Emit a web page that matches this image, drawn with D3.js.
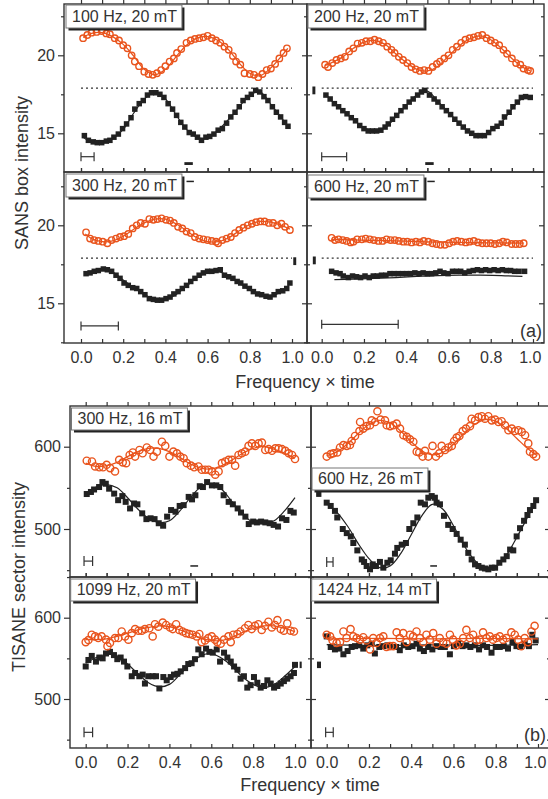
<!DOCTYPE html>
<html>
<head>
<meta charset="utf-8">
<script src="https://cdn.jsdelivr.net/npm/d3@7"></script>
<style>
  body { margin: 0; background: #fff; }
  text { font-family: "Liberation Sans", Arial, sans-serif; fill: #333; }
</style>
</head>
<body>
<div id="chart-container"></div>
<script>
// ---------- data: (a) SANS box intensity ----------
const refLevel = 17.9;

const a100C = [[0.01,21.1],[0.03,21.3],[0.05,21.45],[0.074,21.5],[0.098,21.55],[0.12,21.4],[0.137,21.35],[0.16,21.1],[0.18,20.95],[0.2,20.65],[0.22,20.45],[0.24,20.0],[0.255,19.6],[0.275,19.3],[0.3,18.95],[0.32,18.8],[0.34,18.75],[0.36,18.85],[0.38,19.05],[0.4,19.3],[0.42,19.6],[0.44,19.8],[0.455,20.15],[0.475,20.4],[0.5,20.8],[0.52,20.95],[0.54,21.05],[0.56,21.1],[0.58,21.15],[0.6,21.25],[0.62,21.1],[0.64,20.95],[0.66,20.8],[0.68,20.55],[0.7,20.35],[0.72,19.95],[0.735,19.6],[0.755,19.4],[0.775,18.85],[0.8,18.8],[0.82,18.75],[0.84,18.6],[0.86,18.8],[0.88,19.05],[0.9,19.15],[0.92,19.45],[0.94,19.8],[0.96,20.15],[0.976,20.45]];
const a100CFit = [[0.01,21.15],[0.05,21.4],[0.1,21.45],[0.15,21.2],[0.2,20.7],[0.25,19.95],[0.3,19.1],[0.35,18.75],[0.4,19.1],[0.45,19.9],[0.5,20.65],[0.55,21.1],[0.6,21.2],[0.65,20.95],[0.7,20.35],[0.75,19.5],[0.8,18.85],[0.85,18.7],[0.9,19.2],[0.95,19.95],[0.98,20.45]];
const a100S = [[0.016,14.85],[0.035,14.55],[0.058,14.45],[0.077,14.4],[0.098,14.4],[0.12,14.5],[0.137,14.55],[0.156,14.75],[0.177,14.95],[0.197,15.3],[0.216,15.6],[0.237,16.0],[0.255,16.55],[0.276,16.9],[0.295,17.1],[0.315,17.45],[0.334,17.6],[0.355,17.6],[0.374,17.5],[0.393,17.3],[0.413,16.9],[0.434,16.55],[0.453,16.15],[0.473,15.7],[0.492,15.4],[0.513,15.05],[0.532,14.95],[0.552,14.75],[0.571,14.55],[0.592,14.75],[0.61,14.8],[0.63,14.95],[0.65,15.2],[0.67,15.3],[0.69,15.65],[0.71,16.05],[0.73,16.35],[0.75,16.7],[0.768,17.1],[0.789,17.3],[0.807,17.5],[0.828,17.75],[0.847,17.65],[0.867,17.35],[0.886,17.1],[0.907,16.7],[0.926,16.35],[0.946,16.05],[0.965,15.7],[0.981,15.45]];
const a100SFit = [[0.01,14.75],[0.05,14.45],[0.1,14.4],[0.15,14.65],[0.2,15.25],[0.25,16.3],[0.3,17.2],[0.35,17.6],[0.4,17.2],[0.45,16.2],[0.5,15.25],[0.55,14.75],[0.6,14.7],[0.65,15.2],[0.7,15.9],[0.75,16.7],[0.8,17.45],[0.85,17.65],[0.9,16.85],[0.95,16.0],[0.98,15.4]];

const a200C = [[0.016,19.4],[0.03,19.25],[0.05,19.5],[0.07,19.7],[0.09,19.8],[0.11,19.9],[0.13,20.25],[0.15,20.45],[0.17,20.75],[0.19,20.8],[0.21,20.9],[0.23,20.9],[0.25,21.0],[0.27,20.9],[0.29,20.8],[0.31,20.55],[0.33,20.35],[0.345,20.15],[0.365,19.9],[0.385,19.7],[0.405,19.5],[0.425,19.25],[0.445,19.1],[0.465,19.0],[0.485,19.05],[0.505,19.0],[0.525,19.25],[0.545,19.45],[0.56,19.6],[0.58,19.8],[0.6,20.0],[0.62,20.35],[0.64,20.55],[0.66,20.8],[0.68,21.0],[0.7,21.1],[0.72,21.15],[0.74,21.25],[0.76,21.3],[0.78,21.1],[0.8,20.95],[0.82,20.8],[0.84,20.65],[0.86,20.35],[0.877,20.1],[0.9,19.8],[0.92,19.5],[0.94,19.4],[0.955,19.15],[0.976,19.05],[0.987,19.0]];
const a200CFit = [[0.016,19.35],[0.05,19.55],[0.1,19.9],[0.15,20.45],[0.2,20.85],[0.25,20.95],[0.3,20.7],[0.35,20.1],[0.4,19.55],[0.45,19.1],[0.5,19.0],[0.55,19.3],[0.6,19.95],[0.65,20.6],[0.7,21.05],[0.75,21.25],[0.8,21.0],[0.85,20.45],[0.9,19.8],[0.95,19.25],[0.987,19.0]];
const a200S = [[0.02,17.45],[0.04,17.2],[0.06,16.9],[0.08,16.7],[0.1,16.45],[0.12,16.25],[0.14,16.0],[0.16,15.8],[0.18,15.5],[0.2,15.3],[0.22,15.15],[0.24,15.15],[0.26,15.15],[0.28,15.2],[0.3,15.4],[0.315,15.6],[0.335,15.9],[0.355,16.15],[0.375,16.45],[0.395,16.7],[0.414,17.0],[0.433,17.2],[0.454,17.45],[0.472,17.65],[0.488,17.75],[0.51,17.45],[0.532,17.2],[0.55,17.0],[0.57,16.7],[0.59,16.45],[0.61,16.2],[0.63,15.9],[0.65,15.65],[0.67,15.4],[0.69,15.15],[0.71,15.0],[0.73,14.85],[0.75,14.85],[0.77,14.85],[0.79,15.05],[0.81,15.3],[0.83,15.45],[0.85,15.65],[0.865,16.05],[0.887,16.35],[0.905,16.7],[0.926,17.0],[0.945,17.3],[0.965,17.35],[0.987,17.3]];
const a200SFit = [[0.02,17.5],[0.05,17.05],[0.1,16.45],[0.15,15.9],[0.2,15.35],[0.25,15.15],[0.3,15.35],[0.35,16.05],[0.4,16.8],[0.45,17.45],[0.5,17.7],[0.55,17.05],[0.6,16.35],[0.65,15.65],[0.7,15.1],[0.75,14.85],[0.8,15.15],[0.85,15.7],[0.9,16.55],[0.95,17.25],[0.987,17.35]];

const a300C = [[0.024,19.55],[0.043,19.15],[0.062,19.05],[0.082,19.0],[0.103,18.95],[0.125,18.85],[0.145,19.05],[0.166,19.15],[0.185,19.25],[0.204,19.3],[0.224,19.45],[0.245,19.8],[0.264,20.0],[0.283,20.15],[0.303,20.1],[0.324,20.4],[0.343,20.35],[0.362,20.4],[0.382,20.45],[0.403,20.35],[0.422,20.3],[0.44,20.15],[0.46,19.9],[0.48,19.8],[0.5,19.6],[0.52,19.5],[0.54,19.25],[0.56,19.15],[0.58,19.1],[0.6,19.05],[0.62,19.0],[0.64,18.95],[0.65,18.85],[0.67,19.05],[0.69,19.15],[0.71,19.25],[0.73,19.5],[0.75,19.7],[0.77,19.85],[0.79,20.0],[0.81,20.1],[0.83,20.2],[0.85,20.25],[0.87,20.25],[0.89,20.15],[0.91,20.15],[0.93,20.0],[0.95,20.1],[0.967,19.9],[0.99,19.7]];
const a300CFit = [[0.02,19.45],[0.05,19.15],[0.1,18.95],[0.15,19.0],[0.2,19.3],[0.25,19.75],[0.3,20.15],[0.35,20.4],[0.4,20.4],[0.45,20.1],[0.5,19.65],[0.55,19.2],[0.6,18.95],[0.65,18.95],[0.7,19.2],[0.75,19.65],[0.8,20.05],[0.85,20.25],[0.9,20.2],[0.95,20.0],[0.99,19.75]];
const a300S = [[0.024,16.9],[0.043,16.95],[0.063,17.05],[0.082,17.1],[0.106,17.2],[0.125,17.15],[0.145,17.05],[0.166,16.8],[0.185,16.6],[0.204,16.3],[0.224,16.15],[0.245,16.0],[0.264,15.95],[0.283,15.75],[0.303,15.55],[0.324,15.3],[0.343,15.25],[0.362,15.2],[0.382,15.2],[0.403,15.3],[0.422,15.4],[0.44,15.6],[0.46,15.75],[0.48,15.95],[0.5,16.15],[0.52,16.4],[0.54,16.6],[0.56,16.8],[0.58,16.95],[0.6,17.05],[0.62,17.05],[0.64,17.1],[0.66,17.15],[0.68,16.8],[0.7,16.7],[0.72,16.6],[0.74,16.4],[0.757,16.3],[0.777,16.1],[0.798,15.95],[0.817,15.75],[0.837,15.6],[0.856,15.55],[0.877,15.45],[0.896,15.4],[0.915,15.55],[0.935,15.75],[0.956,15.8],[0.975,15.95],[0.99,16.3]];
const a300SFit = [[0.03,16.95],[0.05,17.05],[0.1,17.15],[0.15,17.0],[0.2,16.5],[0.25,16.0],[0.3,15.55],[0.35,15.25],[0.4,15.25],[0.45,15.55],[0.5,16.1],[0.55,16.65],[0.6,17.0],[0.65,17.05],[0.7,16.75],[0.75,16.3],[0.8,15.85],[0.85,15.5],[0.9,15.45],[0.95,15.75],[0.99,16.25]];

const a600C = [[0.047,19.2],[0.063,19.05],[0.08,19.1],[0.1,19.05],[0.118,19.0],[0.137,18.9],[0.15,18.95],[0.168,19.1],[0.19,19.1],[0.208,19.15],[0.228,19.1],[0.247,19.05],[0.268,19.0],[0.288,19.0],[0.307,19.1],[0.326,19.05],[0.346,19.05],[0.365,19.0],[0.386,18.95],[0.405,18.95],[0.425,18.9],[0.446,18.95],[0.465,18.9],[0.483,19.0],[0.504,18.95],[0.524,18.85],[0.543,18.8],[0.562,18.75],[0.583,18.75],[0.603,18.85],[0.622,18.95],[0.641,19.0],[0.661,18.95],[0.682,18.9],[0.7,18.95],[0.72,19.0],[0.74,18.9],[0.76,18.85],[0.78,18.85],[0.8,18.85],[0.82,18.8],[0.84,18.85],[0.858,18.95],[0.877,18.9],[0.898,18.8],[0.918,18.8],[0.937,18.8],[0.956,18.85]];
const a600CFit = [[0.047,19.1],[0.15,19.06],[0.25,19.03],[0.35,19.0],[0.45,18.96],[0.55,18.92],[0.65,18.9],[0.75,18.88],[0.85,18.87],[0.956,18.86]];
const a600S = [[0.047,17.05],[0.068,16.95],[0.087,16.9],[0.102,16.75],[0.126,16.65],[0.146,16.75],[0.165,16.7],[0.184,16.65],[0.205,16.75],[0.225,16.65],[0.244,16.75],[0.263,16.75],[0.283,16.8],[0.304,16.8],[0.323,16.9],[0.343,16.9],[0.362,16.9],[0.383,16.9],[0.402,16.9],[0.42,16.9],[0.441,16.95],[0.461,16.9],[0.48,16.95],[0.5,16.9],[0.52,16.9],[0.54,16.95],[0.56,17.05],[0.578,16.95],[0.598,16.9],[0.619,17.05],[0.638,17.05],[0.658,17.05],[0.677,16.95],[0.698,17.05],[0.717,17.1],[0.737,17.15],[0.756,17.1],[0.776,17.15],[0.795,17.1],[0.816,17.15],[0.835,17.1],[0.855,17.15],[0.874,17.1],[0.894,17.1],[0.913,17.05],[0.934,17.05],[0.96,17.05]];
const a600SFit = [[0.06,16.52],[0.15,16.55],[0.25,16.6],[0.35,16.65],[0.45,16.72],[0.55,16.78],[0.65,16.8],[0.75,16.8],[0.85,16.78],[0.95,16.72]];

// horizontal bars [x0, x1, level] and small stray marks [x0, x1, v0, v1]
const a100Bar = [0, 0.062, 13.5];
const a200Bar = [0, 0.118, 13.5];
const a300Bar = [0, 0.177, 13.55];
const a600Bar = [0, 0.362, 13.65];
const a100Marks = [[0.49, 0.53, 12.97, 13.15]];
const a200Marks = [[0.49, 0.53, 12.97, 13.15], [-0.044, -0.03, 17.5, 18.0]];
const a300Marks = [[0.5, 0.535, 22.78, 22.86], [1.006, 1.02, 17.45, 17.95]];
const a600Marks = [[0.5, 0.535, 22.78, 22.86], [-0.042, -0.028, 17.5, 18.0]];

// ---------- data: (b) TISANE sector intensity ----------
const b300C = [[0.005,583],[0.03,582],[0.045,576],[0.065,575],[0.083,575],[0.1,578],[0.117,574],[0.14,570],[0.16,584],[0.177,581],[0.193,580],[0.21,590],[0.225,593],[0.236,588],[0.257,596],[0.272,592],[0.292,599],[0.308,596],[0.324,588],[0.34,594],[0.364,606],[0.38,601],[0.4,588],[0.419,594],[0.436,592],[0.452,588],[0.468,586],[0.483,580],[0.503,577],[0.518,575],[0.539,576],[0.555,572],[0.571,572],[0.587,572],[0.603,570],[0.619,566],[0.635,570],[0.651,580],[0.667,582],[0.683,584],[0.699,584],[0.714,577],[0.73,590],[0.746,592],[0.762,594],[0.778,601],[0.794,604],[0.81,601],[0.826,604],[0.842,605],[0.858,596],[0.874,597],[0.89,595],[0.906,598],[0.922,598],[0.938,597],[0.954,595],[0.97,592],[0.986,590],[1.0,585]];
const b300CFit = [[0,580],[0.05,576],[0.1,577],[0.15,581],[0.2,588],[0.25,594],[0.3,598],[0.35,598],[0.4,594],[0.45,587],[0.5,579],[0.55,574],[0.6,573],[0.65,577],[0.7,584],[0.75,592],[0.8,598],[0.85,600],[0.9,597],[0.95,592],[1.0,586]];
const b300S = [[0.005,542.5],[0.025,545],[0.04,548],[0.064,551],[0.08,557],[0.096,555],[0.112,549],[0.136,543],[0.155,535],[0.175,540],[0.191,533],[0.212,525],[0.231,531],[0.247,530],[0.27,519],[0.29,512],[0.31,513],[0.329,512],[0.349,507],[0.37,504],[0.389,515],[0.408,523],[0.429,521],[0.449,528],[0.468,529],[0.492,539],[0.508,536],[0.524,541],[0.545,552],[0.56,551],[0.58,557],[0.603,553],[0.624,553],[0.643,551],[0.659,541],[0.683,533],[0.703,530],[0.726,525],[0.742,520],[0.763,515],[0.779,506],[0.8,509],[0.818,508],[0.838,509],[0.858,508],[0.879,507],[0.898,505],[0.919,503],[0.938,513],[0.959,511],[0.978,522],[0.994,520]];
const b300SFit = [[0,543],[0.05,551],[0.1,554],[0.15,550],[0.2,538],[0.25,524],[0.3,513],[0.35,508],[0.4,510],[0.45,522],[0.5,538],[0.55,551],[0.6,555],[0.65,548],[0.7,533],[0.75,518],[0.8,508],[0.85,507],[0.9,510],[0.95,522],[1.0,538]];

const b600C = [[0.0,588],[0.019,591],[0.032,592],[0.05,593],[0.063,599],[0.079,602],[0.095,601],[0.11,602],[0.118,607],[0.134,613],[0.155,619],[0.158,630],[0.173,622],[0.189,625],[0.205,626],[0.213,632],[0.229,630],[0.24,643],[0.255,633],[0.276,632],[0.284,626],[0.3,625],[0.315,626],[0.331,628],[0.347,622],[0.363,614],[0.379,612],[0.394,609],[0.41,606],[0.426,594],[0.438,593],[0.454,588],[0.465,595],[0.481,588],[0.501,601],[0.517,588],[0.533,592],[0.544,601],[0.56,596],[0.576,599],[0.592,601],[0.603,607],[0.615,611],[0.628,613],[0.644,619],[0.659,622],[0.678,625],[0.686,634],[0.702,632],[0.718,636],[0.734,637],[0.749,634],[0.765,637],[0.781,632],[0.797,633],[0.813,630],[0.828,631],[0.844,626],[0.86,620],[0.876,622],[0.891,619],[0.907,620],[0.923,618],[0.939,614],[0.954,604],[0.962,594],[0.978,591],[0.991,588]];
const b600CFit = [[0,589],[0.05,594],[0.1,604],[0.15,616],[0.2,627],[0.25,632],[0.3,629],[0.35,619],[0.4,606],[0.45,595],[0.5,590],[0.55,593],[0.6,603],[0.65,616],[0.7,627],[0.75,633],[0.8,631],[0.85,622],[0.9,610],[0.95,598],[0.99,590]];
const b600S = [[0.0,532],[0.019,528],[0.039,522],[0.05,514],[0.076,500],[0.095,495],[0.114,491],[0.126,483],[0.145,474],[0.166,463],[0.177,460],[0.189,455],[0.205,451],[0.218,457],[0.233,455],[0.252,460],[0.268,453],[0.287,459],[0.303,462],[0.323,470],[0.334,477],[0.355,481],[0.375,483],[0.391,500],[0.41,507],[0.429,514],[0.445,532],[0.465,530],[0.481,538],[0.497,540],[0.512,538],[0.52,532],[0.536,530],[0.555,516],[0.575,505],[0.596,500],[0.615,494],[0.634,487],[0.654,481],[0.67,471],[0.686,463],[0.702,457],[0.718,455],[0.734,453],[0.749,452],[0.765,451],[0.781,453],[0.797,453],[0.817,459],[0.836,463],[0.852,467],[0.868,475],[0.883,474],[0.899,491],[0.915,501],[0.934,510],[0.95,517],[0.962,523],[0.978,528],[0.991,535]];
const b600SFit = [[0,531],[0.05,520],[0.1,503],[0.15,482],[0.2,464],[0.25,453],[0.3,455],[0.35,470],[0.4,493],[0.45,516],[0.5,530],[0.55,524],[0.6,504],[0.65,480],[0.7,462],[0.75,452],[0.8,454],[0.85,468],[0.9,490],[0.95,514],[0.99,534]];

const b1099C = [[0.0,570],[0.013,572.5],[0.029,579],[0.045,577],[0.06,575],[0.076,577],[0.097,573],[0.104,565],[0.116,569],[0.14,575],[0.156,575],[0.172,583],[0.188,577],[0.204,573],[0.22,581],[0.236,586],[0.252,584],[0.268,584],[0.283,586],[0.304,587],[0.32,577],[0.331,592],[0.347,589],[0.368,594],[0.384,591],[0.403,588],[0.416,586],[0.432,592],[0.447,585],[0.463,583],[0.479,581],[0.495,580],[0.511,579],[0.53,577],[0.543,580],[0.554,570],[0.57,572],[0.586,575],[0.602,577],[0.618,573],[0.629,570],[0.645,568],[0.661,573],[0.682,577],[0.693,570],[0.705,579],[0.725,580],[0.74,583],[0.761,587],[0.777,591],[0.793,586],[0.809,590],[0.825,592],[0.841,585],[0.857,590],[0.873,595],[0.889,588],[0.904,591],[0.916,597],[0.932,586],[0.947,584],[0.963,593],[0.979,584],[0.995,583]];
const b1099CFit = [[0,573],[0.05,573],[0.1,574],[0.15,577],[0.2,581],[0.25,585],[0.3,588],[0.35,590],[0.4,589],[0.45,585],[0.5,580],[0.55,575],[0.6,572],[0.65,572],[0.7,576],[0.75,582],[0.8,587],[0.85,590],[0.9,590],[0.95,587],[1.0,583]];
const b1099S = [[0.0,540],[0.013,548],[0.029,553],[0.049,546],[0.065,551],[0.081,550],[0.097,556],[0.116,558],[0.135,554],[0.151,549],[0.167,551],[0.183,546],[0.199,540],[0.22,528],[0.236,532],[0.256,528],[0.272,530],[0.283,519],[0.299,528],[0.32,528],[0.336,528],[0.352,513],[0.371,527],[0.387,523],[0.406,527],[0.422,530],[0.438,531],[0.454,534],[0.475,538],[0.49,543],[0.506,544],[0.522,549],[0.538,561],[0.554,555],[0.575,562],[0.591,558],[0.607,557],[0.626,561],[0.642,546],[0.661,557],[0.677,551],[0.693,546],[0.709,540],[0.725,536],[0.74,525],[0.756,528],[0.772,514],[0.788,517],[0.804,527],[0.82,520],[0.836,514],[0.852,516],[0.868,523],[0.884,519],[0.9,514],[0.916,516],[0.932,519],[0.947,522],[0.963,525],[0.979,528],[0.995,532],[1.0,542]];
const b1099SFit = [[0,544],[0.05,551],[0.1,555],[0.15,553],[0.2,543],[0.25,531],[0.3,520],[0.35,515],[0.4,518],[0.45,530],[0.5,543],[0.55,553],[0.6,556],[0.65,550],[0.7,540],[0.75,527],[0.8,518],[0.85,514],[0.9,518],[0.95,528],[1.0,540]];

const b1424C = [[0,579],[0.016,577],[0.028,572],[0.047,569],[0.063,570],[0.079,583],[0.094,575],[0.113,586],[0.126,577],[0.142,575],[0.157,573],[0.173,576],[0.189,572],[0.205,561],[0.22,575],[0.236,569],[0.252,575],[0.268,577],[0.283,564],[0.299,565],[0.315,565],[0.331,582],[0.346,575],[0.362,581],[0.378,570],[0.394,579],[0.409,577],[0.425,583],[0.441,575],[0.457,570],[0.472,579],[0.488,573],[0.504,581],[0.52,568],[0.535,575],[0.551,570],[0.567,568],[0.583,579],[0.598,573],[0.614,566],[0.63,568],[0.646,575],[0.661,585],[0.677,575],[0.693,579],[0.709,572],[0.724,573],[0.74,582],[0.756,575],[0.772,577],[0.787,573],[0.803,575],[0.819,577],[0.835,573],[0.85,575],[0.874,582],[0.89,579],[0.906,573],[0.921,565],[0.937,575],[0.953,570],[0.969,583],[0.984,590]];
const b1424CFit = [[0,574],[0.25,574.5],[0.5,574],[0.75,574.5],[1.0,574]];
const b1424S = [[0.0,577],[0.019,564],[0.039,561],[0.06,562],[0.079,555],[0.099,559],[0.118,564],[0.134,565],[0.154,566],[0.173,562],[0.192,566],[0.213,568],[0.228,556],[0.249,564],[0.268,565],[0.287,566],[0.307,564],[0.328,564],[0.346,560],[0.365,566],[0.386,564],[0.406,565],[0.425,568],[0.441,562],[0.46,559],[0.48,564],[0.5,561],[0.52,565],[0.539,564],[0.559,564],[0.583,555],[0.602,565],[0.622,568],[0.643,565],[0.661,566],[0.68,564],[0.701,566],[0.721,561],[0.74,566],[0.759,564],[0.78,557],[0.8,564],[0.819,564],[0.838,565],[0.858,562],[0.879,570],[0.898,565],[0.917,564],[0.937,568],[0.957,565],[0.973,579],[0.989,572]];
const b1424SFit = [[0,567],[0.25,566],[0.5,566.5],[0.75,566],[1.0,567]];

const b300Bar = [-0.008, 0.033, 461];
const b600Bar = [0, 0.03, 460];
const b1099Bar = [-0.008, 0.033, 459];
const b1424Bar = [-0.005, 0.031, 459];
const b300Marks = [[0.5, 0.537, 454.5, 456]];
const b600Marks = [[0.49, 0.522, 454.5, 456], [-0.05, -0.025, 539, 546]];
const b1099Marks = [[1.022, 1.032, 538, 546]];
const b1424Marks = [[-0.046, -0.027, 538, 546]];

const xTicksMajor = [0, 0.2, 0.4, 0.6, 0.8, 1.0];
const xTicksAll = [0, 0.1, 0.2, 0.3, 0.4, 0.5, 0.6, 0.7, 0.8, 0.9, 1.0];
const aTicksMajor = [15, 20], aTicksMinor = [12.5, 17.5, 22.5];
const bTicksMajor = [500, 600], bTicksMinor = [450, 550, 650];

const panels = [
  {part: 'a', row: 0, col: 0, label: '100 Hz, 20 mT', circ: a100C, circFit: a100CFit, sq: a100S, sqFit: a100SFit, bar: a100Bar, marks: a100Marks},
  {part: 'a', row: 0, col: 1, label: '200 Hz, 20 mT', circ: a200C, circFit: a200CFit, sq: a200S, sqFit: a200SFit, bar: a200Bar, marks: a200Marks},
  {part: 'a', row: 1, col: 0, label: '300 Hz, 20 mT', circ: a300C, circFit: a300CFit, sq: a300S, sqFit: a300SFit, bar: a300Bar, marks: a300Marks},
  {part: 'a', row: 1, col: 1, label: '600 Hz, 20 mT', circ: a600C, circFit: a600CFit, sq: a600S, sqFit: a600SFit, bar: a600Bar, marks: a600Marks},
  {part: 'b', row: 0, col: 0, label: '300 Hz, 16 mT', circ: b300C, circFit: b300CFit, sq: b300S, sqFit: b300SFit, bar: b300Bar, marks: b300Marks},
  {part: 'b', row: 0, col: 1, label: '600 Hz, 26 mT', circ: b600C, circFit: b600CFit, sq: b600S, sqFit: b600SFit, bar: b600Bar, marks: b600Marks},
  {part: 'b', row: 1, col: 0, label: '1099 Hz, 20 mT', circ: b1099C, circFit: b1099CFit, sq: b1099S, sqFit: b1099SFit, bar: b1099Bar, marks: b1099Marks},
  {part: 'b', row: 1, col: 1, label: '1424 Hz, 14 mT', circ: b1424C, circFit: b1424CFit, sq: b1424S, sqFit: b1424SFit, bar: b1424Bar, marks: b1424Marks}
];

// ---------- layout ----------
const layout = {
  a: {
    ref: [15, 20], major: aTicksMajor, minor: aTicksMinor, r: 3.2, sqSize: 5.5, cap: 4.5,
    cols: [{x0: 64, x1: 307, p0: 81, p1: 292}, {x0: 307, x1: 544, p0: 321.7, p1: 533}],
    rows: [{y0: 4, y1: 172, lo: 133.3, hi: 55.3}, {y0: 172, y1: 343, lo: 303.3, hi: 225.3}],
    boxes: [[[66, 5], [308, 5]], [[66, 174], [308, 175]]], boxH: 23,
    yTitle: 'SANS box intensity', yTitlePos: [28, 173],
    xTitlePos: [305, 388], xLabelY: 365, tag: '(a)', tagPos: [542, 337]
  },
  b: {
    ref: [500, 600], major: bTicksMajor, minor: bTicksMinor, r: 3.6, sqSize: 6, cap: 5,
    cols: [{x0: 70, x1: 311, p0: 85.7, p1: 295}, {x0: 311, x1: 550, p0: 326.7, p1: 538}],
    rows: [{y0: 406, y1: 577, lo: 529, hi: 446.7}, {y0: 577, y1: 748, lo: 699, hi: 617.7}],
    boxes: [[[71.5, 408], [312, 468]], [[70.7, 579], [311.7, 579]]], boxH: 22,
    yTitle: 'TISANE sector intensity', yTitlePos: [25, 577],
    xTitlePos: [310, 791], xLabelY: 768, tag: '(b)', tagPos: [546, 741]
  }
};

const orange = '#e9541d';
const dark = '#222';

document.addEventListener('DOMContentLoaded', visualise);

function visualise() {
  const svg = d3.select('#chart-container').append('svg')
      .attr('width', 548).attr('height', 799);

  panels.forEach(function(p) { drawPanel(svg, p); });

  // axis titles and part tags
  ['a', 'b'].forEach(function(k) {
    const L = layout[k];
    svg.append('text')
        .attr('transform', 'translate(' + L.yTitlePos[0] + ',' + L.yTitlePos[1] + ') rotate(-90)')
        .attr('text-anchor', 'middle')
        .style('font-size', '18px')
        .text(L.yTitle);
    svg.append('text')
        .attr('x', L.xTitlePos[0]).attr('y', L.xTitlePos[1])
        .attr('text-anchor', 'middle')
        .style('font-size', '18px')
        .text('Frequency \u00d7 time');
    svg.append('text')
        .attr('x', L.tagPos[0]).attr('y', L.tagPos[1])
        .attr('text-anchor', 'end')
        .style('font-size', '18px')
        .text(L.tag);
  });
}

function drawPanel(svg, p) {
  const L = layout[p.part];
  const col = L.cols[p.col], row = L.rows[p.row];
  const x = d3.scaleLinear().domain([0, 1]).range([col.p0, col.p1]);
  const y = d3.scaleLinear().domain(L.ref).range([row.lo, row.hi]);
  const g = svg.append('g');

  // frame
  g.append('rect')
      .attr('x', col.x0).attr('y', row.y0)
      .attr('width', col.x1 - col.x0).attr('height', row.y1 - row.y0)
      .attr('fill', 'none').attr('stroke', '#333').attr('stroke-width', 1.4);

  const yLo = y.invert(row.y1), yHi = y.invert(row.y0);
  const minor = L.minor.filter(function(v) { return v >= yLo && v <= yHi; });

  // x ticks, all pointing up, on top and bottom edges
  [row.y0, row.y1].forEach(function(yy) {
    g.append('g')
        .attr('transform', 'translate(0,' + yy + ')')
        .call(d3.axisTop(x).tickValues(xTicksAll).tickSize(4).tickFormat(''))
        .call(styleAxis);
  });

  // x labels on the bottom row
  if (p.row === 1) {
    const lab = g.append('g')
        .attr('transform', 'translate(0,' + row.y1 + ')')
        .call(d3.axisBottom(x).tickValues(xTicksMajor).tickSize(0).tickPadding(9).tickFormat(d3.format('.1f')))
        .call(styleAxis);
    lab.selectAll('text').style('font-size', '16px');
    // keep the last label of the right column inside the page
    if (p.col === 1) {
      lab.selectAll('text').filter(function(d) { return d === 1; }).attr('dx', '-0.2em');
    }
  }

  // y ticks
  if (p.col === 0) {
    const ax = g.append('g').attr('transform', 'translate(' + col.x0 + ',0)');
    ax.call(d3.axisLeft(y).tickValues(L.major).tickSize(6).tickPadding(3).tickFormat(d3.format('d')))
      .call(styleAxis)
      .selectAll('text').style('font-size', '16px');
    g.append('g').attr('transform', 'translate(' + col.x0 + ',0)')
      .call(d3.axisLeft(y).tickValues(minor).tickSize(3).tickFormat(''))
      .call(styleAxis);
    g.append('g').attr('transform', 'translate(' + col.x1 + ',0)')
      .call(d3.axisLeft(y).tickValues(L.major).tickSize(5).tickFormat(''))
      .call(styleAxis);
    g.append('g').attr('transform', 'translate(' + col.x1 + ',0)')
      .call(d3.axisLeft(y).tickValues(minor).tickSize(3).tickFormat(''))
      .call(styleAxis);
  } else {
    g.append('g').attr('transform', 'translate(' + col.x0 + ',0)')
      .call(d3.axisRight(y).tickValues(L.major).tickSize(5).tickFormat(''))
      .call(styleAxis);
    g.append('g').attr('transform', 'translate(' + col.x0 + ',0)')
      .call(d3.axisRight(y).tickValues(minor).tickSize(3).tickFormat(''))
      .call(styleAxis);
    g.append('g').attr('transform', 'translate(' + col.x1 + ',0)')
      .call(d3.axisLeft(y).tickValues(L.major).tickSize(5).tickFormat(''))
      .call(styleAxis);
    g.append('g').attr('transform', 'translate(' + col.x1 + ',0)')
      .call(d3.axisLeft(y).tickValues(minor).tickSize(3).tickFormat(''))
      .call(styleAxis);
  }

  // dotted reference level in (a)
  if (p.part === 'a') {
    g.append('line')
        .attr('x1', x(0)).attr('x2', x(1))
        .attr('y1', y(refLevel)).attr('y2', y(refLevel))
        .attr('stroke', '#333').attr('stroke-width', 1.2)
        .attr('stroke-dasharray', '2,3');
  }

  const line = d3.line()
      .x(function(d) { return x(d[0]); })
      .y(function(d) { return y(d[1]); })
      .curve(d3.curveCatmullRom);

  // squares and their fit
  const s = L.sqSize;
  g.selectAll('.sq')
      .data(p.sq)
      .enter()
      .append('rect')
      .attr('x', function(d) { return x(d[0]) - s / 2; })
      .attr('y', function(d) { return y(d[1]) - s / 2; })
      .attr('width', s).attr('height', s)
      .attr('fill', dark);
  g.append('path').datum(p.sqFit)
      .attr('fill', 'none').attr('stroke', dark).attr('stroke-width', 1.2)
      .attr('d', line);

  // circles and their fit
  g.append('path').datum(p.circFit)
      .attr('fill', 'none').attr('stroke', orange).attr('stroke-width', 1.3)
      .attr('d', line);
  g.selectAll('.ci')
      .data(p.circ)
      .enter()
      .append('circle')
      .attr('cx', function(d) { return x(d[0]); })
      .attr('cy', function(d) { return y(d[1]); })
      .attr('r', L.r)
      .attr('fill', 'none').attr('stroke', orange).attr('stroke-width', 1.4);

  // resolution bar
  const b = p.bar;
  const bar = g.append('g').attr('stroke', '#333').attr('stroke-width', 1.2);
  bar.append('line').attr('x1', x(b[0])).attr('x2', x(b[1])).attr('y1', y(b[2])).attr('y2', y(b[2]));
  [b[0], b[1]].forEach(function(v) {
    bar.append('line').attr('x1', x(v)).attr('x2', x(v))
        .attr('y1', y(b[2]) - L.cap).attr('y2', y(b[2]) + L.cap);
  });

  // stray marks
  g.selectAll('.mk')
      .data(p.marks)
      .enter()
      .append('rect')
      .attr('x', function(d) { return x(d[0]); })
      .attr('y', function(d) { return y(d[3]); })
      .attr('width', function(d) { return Math.max(2, x(d[1]) - x(d[0])); })
      .attr('height', function(d) { return Math.max(1.5, y(d[2]) - y(d[3])); })
      .attr('fill', dark);

  // label box with drop shadow
  const pos = L.boxes[p.row][p.col];
  const box = g.append('g');
  const shadow = box.append('rect');
  const face = box.append('rect');
  const t = box.append('text')
      .attr('x', pos[0] + 6).attr('y', pos[1] + L.boxH - 6)
      .style('font-size', '16px')
      .text(p.label);
  const w = t.node().getComputedTextLength() + 11;
  shadow.attr('x', pos[0] + 2.5).attr('y', pos[1] + 2.5)
      .attr('width', w).attr('height', L.boxH).attr('fill', '#222');
  face.attr('x', pos[0]).attr('y', pos[1])
      .attr('width', w).attr('height', L.boxH)
      .attr('fill', '#fff').attr('stroke', '#777').attr('stroke-width', 1);
}

function styleAxis(sel) {
  sel.select('.domain').remove();
  sel.selectAll('line').attr('stroke', '#333').attr('stroke-width', 1.2);
  sel.selectAll('text').attr('fill', '#333').style('font-family', '"Liberation Sans", Arial, sans-serif');
}
</script>
</body>
</html>
